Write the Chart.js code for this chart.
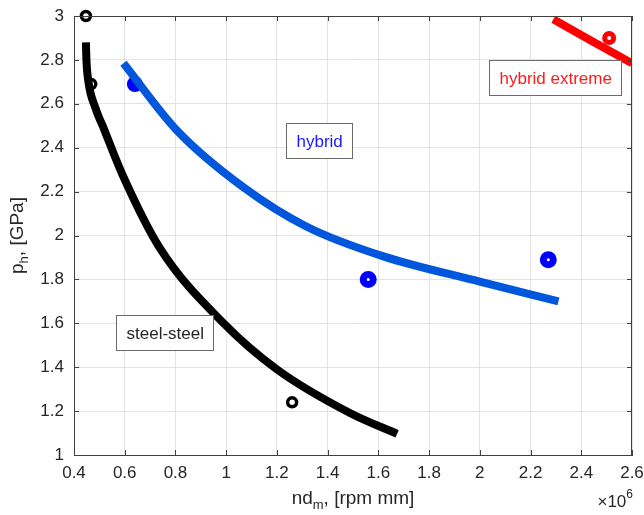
<!DOCTYPE html>
<html>
<head>
<meta charset="utf-8">
<script src="https://cdn.jsdelivr.net/npm/chart.js@4/dist/chart.umd.min.js"></script>
<style>
  body { margin: 0; background: #fff; }
  canvas { display: block; }
</style>
</head>
<body>
<canvas id="chart" width="644" height="515"></canvas>
<script>
// x in 1e6 rpm mm, y in GPa
const xTicks = [0.4, 0.6, 0.8, 1, 1.2, 1.4, 1.6, 1.8, 2, 2.2, 2.4, 2.6];
const yTicks = [1, 1.2, 1.4, 1.6, 1.8, 2, 2.2, 2.4, 2.6, 2.8, 3];

// curves
const steelX = [0.447, 0.449, 0.457, 0.485, 0.52, 0.59, 0.74, 0.99, 1.2, 1.49, 1.674];
const steelY = [2.88, 2.80, 2.70, 2.58, 2.48, 2.28, 1.94, 1.60, 1.39, 1.19, 1.096];
const hybridX = [0.595, 0.805, 1.068, 1.318, 1.62, 2.0, 2.31];
const hybridY = [2.785, 2.48, 2.22, 2.04, 1.905, 1.79, 1.70];
const extremeX = [2.29, 2.45, 2.60];
const extremeY = [2.985, 2.88, 2.785];

// measured points
const steelPtsX = [0.447, 0.468, 1.26];
const steelPtsY = [3.0, 2.69, 1.24];
const hybridBigX = [0.64];
const hybridBigY = [2.69];
const hybridPtsX = [1.56, 2.27];
const hybridPtsY = [1.80, 1.89];
const extremePtsX = [2.51];
const extremePtsY = [2.90];

// text labels (anchored top-left, data coords)
const notes = [
    { text: 'hybrid', x: 1.236, y: 2.513, color: '#1a1aff' },
    { text: 'steel-steel', x: 0.566, y: 1.638, color: '#262626' },
    { text: 'hybrid extreme', x: 2.037, y: 2.80, color: '#ff1a1a' }
];

function pts(xs, ys) {
    return xs.map((x, i) => ({ x: x, y: ys[i] }));
}

const FONT = "'Liberation Sans', Arial, sans-serif";
const AXIS_COL = '#404040';

// inner ticks + box like matlab
const framePlugin = {
    id: 'frame',
    afterDatasetsDraw(chart) {
        const { ctx, chartArea: a, scales } = chart;
        ctx.save();
        ctx.strokeStyle = AXIS_COL;
        ctx.lineWidth = 1;
        ctx.beginPath();
        xTicks.forEach(v => {
            const px = Math.round(scales.x.getPixelForValue(v)) + 0.5;
            ctx.moveTo(px, a.bottom); ctx.lineTo(px, a.bottom - 5);
            ctx.moveTo(px, a.top); ctx.lineTo(px, a.top + 5);
        });
        yTicks.forEach(v => {
            const py = Math.round(scales.y.getPixelForValue(v)) + 0.5;
            ctx.moveTo(a.left, py); ctx.lineTo(a.left + 5, py);
            ctx.moveTo(a.right, py); ctx.lineTo(a.right - 5, py);
        });
        ctx.stroke();
        ctx.strokeRect(Math.round(a.left) + 0.5, Math.round(a.top) + 0.5,
            Math.round(a.right - a.left) - 1, Math.round(a.bottom - a.top));
        ctx.restore();
    },
    afterDraw(chart) {
        const { ctx, chartArea: a, scales } = chart;
        ctx.save();
        // text boxes
        ctx.font = '17px ' + FONT;
        ctx.textBaseline = 'middle';
        notes.forEach(n => {
            const w = ctx.measureText(n.text).width;
            const bx = Math.round(scales.x.getPixelForValue(n.x)) + 0.5;
            const by = Math.round(scales.y.getPixelForValue(n.y)) + 0.5;
            const bw = Math.round(w + 20), bh = 35;
            ctx.fillStyle = '#fff';
            ctx.fillRect(bx, by, bw, bh);
            ctx.strokeStyle = '#6b6b6b';
            ctx.lineWidth = 1;
            ctx.strokeRect(bx, by, bw, bh);
            ctx.fillStyle = n.color;
            ctx.textAlign = 'left';
            ctx.fillText(n.text, bx + 10, by + bh / 2 + 1);
        });

        // axis titles with subscripts
        ctx.fillStyle = '#262626';
        ctx.textBaseline = 'alphabetic';
        ctx.textAlign = 'left';
        const big = '19px ' + FONT, small = '13px ' + FONT;
        ctx.font = big;
        const w1 = ctx.measureText('nd').width;
        const w3 = ctx.measureText(', [rpm mm]').width;
        ctx.font = small;
        const w2 = ctx.measureText('m').width;
        let sx = (a.left + a.right) / 2 - (w1 + w2 + w3) / 2;
        const base = 504;
        ctx.font = big; ctx.fillText('nd', sx, base);
        ctx.font = small; ctx.fillText('m', sx + w1, base + 5);
        ctx.font = big; ctx.fillText(', [rpm mm]', sx + w1 + w2, base);

        ctx.save();
        ctx.translate(23, (a.top + a.bottom) / 2);
        ctx.rotate(-Math.PI / 2);
        ctx.font = big;
        const p1 = ctx.measureText('p').width;
        const p3 = ctx.measureText(', [GPa]').width;
        ctx.font = small;
        const p2 = ctx.measureText('h').width;
        let ty = -(p1 + p2 + p3) / 2;
        ctx.font = big; ctx.fillText('p', ty, 0);
        ctx.font = small; ctx.fillText('h', ty + p1, 5);
        ctx.font = big; ctx.fillText(', [GPa]', ty + p1 + p2, 0);
        ctx.restore();

        // exponent
        ctx.font = '17px ' + FONT;
        const e1 = ctx.measureText('\u00d710').width;
        ctx.font = '12px ' + FONT;
        const e2 = ctx.measureText('6').width;
        const ex = a.right - e1 - e2 + 1;
        ctx.font = '17px ' + FONT;
        ctx.fillText('\u00d710', ex, 507);
        ctx.font = '12px ' + FONT;
        ctx.fillText('6', ex + e1, 498);
        ctx.restore();
    }
};

const lineBase = {
    showLine: true,
    pointRadius: 0,
    pointHoverRadius: 0,
    borderWidth: 8,
    cubicInterpolationMode: 'monotone',
    fill: false
};

const chart = new Chart(document.getElementById('chart'), {
    type: 'scatter',
    data: {
        datasets: [
            Object.assign({ label: 'steel-steel', data: pts(steelX, steelY), borderColor: '#000000' }, lineBase),
            Object.assign({ label: 'hybrid', data: pts(hybridX, hybridY), borderColor: '#0057db' }, lineBase),
            Object.assign({ label: 'hybrid extreme', data: pts(extremeX, extremeY), borderColor: '#ff0000' }, lineBase),
            {
                label: 'steel pts', data: pts(steelPtsX, steelPtsY),
                pointRadius: 4.5, borderWidth: 3.5, borderColor: '#000000',
                backgroundColor: 'rgba(255,255,255,0)', clip: false
            },
            {
                label: 'hybrid pt', data: pts(hybridBigX, hybridBigY),
                pointRadius: 8, borderWidth: 0, backgroundColor: '#0000ff', clip: false
            },
            {
                label: 'hybrid pts', data: pts(hybridPtsX, hybridPtsY),
                pointRadius: 5, borderWidth: 7, borderColor: '#0000ff',
                backgroundColor: '#ffffff', clip: false
            },
            {
                label: 'extreme pts', data: pts(extremePtsX, extremePtsY),
                pointRadius: 4.5, borderWidth: 5, borderColor: '#ff0000',
                backgroundColor: '#ffffff', clip: false
            }
        ]
    },
    options: {
        responsive: false,
        animation: false,
        layout: { padding: { left: 0, right: 12, top: 16, bottom: 0 } },
        plugins: {
            legend: { display: false },
            tooltip: { enabled: false }
        },
        scales: {
            x: {
                type: 'linear',
                min: 0.4, max: 2.6,
                afterBuildTicks: s => { s.ticks = xTicks.map(v => ({ value: v })); },
                afterFit: s => { s.height = 60; s.paddingLeft = 0; s.paddingRight = 0; },
                grid: { color: '#e3e3e3', drawTicks: false },
                border: { display: true, color: AXIS_COL },
                ticks: {
                    padding: 8,
                    color: '#262626',
                    font: { family: FONT, size: 17 },
                    maxRotation: 0,
                    callback: v => String(parseFloat(v.toFixed(1)))
                }
            },
            y: {
                type: 'linear',
                min: 1, max: 3,
                afterBuildTicks: s => { s.ticks = yTicks.map(v => ({ value: v })); },
                afterFit: s => { s.width = 74; s.paddingTop = 0; s.paddingBottom = 0; },
                grid: { color: '#e3e3e3', drawTicks: false },
                border: { display: true, color: AXIS_COL },
                ticks: {
                    padding: 10,
                    color: '#262626',
                    font: { family: FONT, size: 17 },
                    callback: v => String(parseFloat(v.toFixed(1)))
                }
            }
        }
    },
    plugins: [framePlugin]
});
</script>
</body>
</html>
